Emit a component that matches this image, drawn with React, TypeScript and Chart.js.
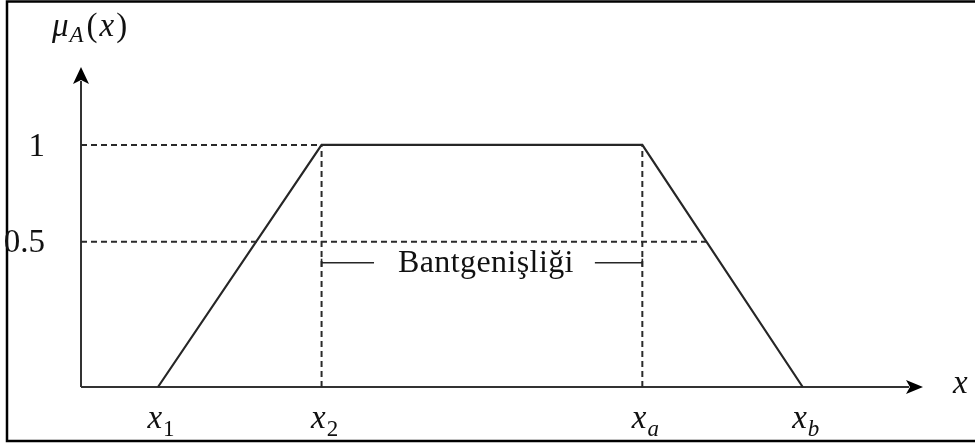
import React, { useEffect, useRef } from "react";
import { Chart, registerables, LinearScale } from "chart.js";

// Trapezoidal membership function: corner positions on the x axis
const CORNER_X = [0.48, 1.5, 3.5, 4.5];
const CORNER_MU = [0, 1, 1, 0];
// Tick marks under the x axis and their subscript names
const X_TICK_VALUES = [0.48, 1.5, 3.5, 4.5];
const X_TICK_SUBS = ["1", "2", "a", "b"];
// Membership levels shown on the y axis
const Y_TICK_VALUES = [1, 0.5];
const Y_TICK_LABELS = ["1", "0.5"];
// Where the 0.5 guide meets the falling edge
const HALF_GUIDE_END = 3.9;
const X_MAX = 5.25;
const Y_MAX = 1.322;
const BAND_LABEL = "Bantgenişliği";

// The membership axis is drawn not to scale: the lower half (0..0.5)
// is stretched and the upper half (0.5..1) squeezed.
const warp = (v: number) =>
  v <= 0.5 ? v * 1.2 : v <= 1 ? 0.6 + (v - 0.5) * 0.8 : 1 + (v - 1);
const unwarp = (w: number) =>
  w <= 0.6 ? w / 1.2 : w <= 1 ? 0.5 + (w - 0.6) / 0.8 : 1 + (w - 1);

class WarpedScale extends LinearScale {
  static id = "warped";
  getPixelForValue(value: number) {
    return super.getPixelForValue(warp(value));
  }
  getValueForPixel(pixel: number) {
    return unwarp(super.getValueForPixel(pixel) as number);
  }
}

Chart.register(...registerables, WarpedScale as any);

const SERIF = '"Liberation Serif", "Times New Roman", serif';
const INK = "#262626";

function drawSubscripted(
  ctx: CanvasRenderingContext2D,
  base: string,
  sub: string,
  cx: number,
  baseline: number,
) {
  ctx.font = `italic 33px ${SERIF}`;
  const w1 = ctx.measureText(base).width;
  const subItalic = /[a-z]/i.test(sub);
  const subFont = `${subItalic ? "italic " : ""}23px ${SERIF}`;
  ctx.font = subFont;
  const w2 = ctx.measureText(sub).width;
  const start = cx - (w1 + w2 + 1) / 2;
  ctx.font = `italic 33px ${SERIF}`;
  ctx.fillText(base, start, baseline);
  ctx.font = subFont;
  ctx.fillText(sub, start + w1 + 1, baseline + 8);
}

const schemaPlugin = {
  id: "schema",
  beforeDatasetsDraw(chart: any) {
    const { ctx, chartArea: a, scales } = chart;
    const ox = scales.x.getPixelForValue(0);
    const oy = scales.y.getPixelForValue(0);
    ctx.save();
    // outer frame
    ctx.strokeStyle = "#000";
    ctx.lineWidth = 2.5;
    ctx.strokeRect(7, 1.5, 990, 439.5);

    // axes with arrow heads
    ctx.strokeStyle = "#333";
    ctx.lineWidth = 2;
    ctx.beginPath();
    ctx.moveTo(ox, oy);
    ctx.lineTo(ox, a.top + 14);
    ctx.moveTo(ox, oy);
    ctx.lineTo(a.right - 14, oy);
    ctx.stroke();
    ctx.fillStyle = "#000";
    ctx.beginPath();
    ctx.moveTo(ox, a.top);
    ctx.lineTo(ox - 8, a.top + 17);
    ctx.lineTo(ox, a.top + 13);
    ctx.lineTo(ox + 8, a.top + 17);
    ctx.closePath();
    ctx.fill();
    ctx.beginPath();
    ctx.moveTo(a.right, oy);
    ctx.lineTo(a.right - 17, oy - 7);
    ctx.lineTo(a.right - 13, oy);
    ctx.lineTo(a.right - 17, oy + 7);
    ctx.closePath();
    ctx.fill();
    ctx.restore();
  },
  afterDatasetsDraw(chart: any) {
    const { ctx, chartArea: a, scales } = chart;
    const ox = scales.x.getPixelForValue(0);
    const oy = scales.y.getPixelForValue(0);
    ctx.save();
    ctx.fillStyle = "#111";

    // y tick labels
    ctx.font = `33px ${SERIF}`;
    ctx.textAlign = "right";
    ctx.textBaseline = "middle";
    Y_TICK_VALUES.forEach((v, i) => {
      ctx.fillText(Y_TICK_LABELS[i], ox - 36, scales.y.getPixelForValue(v) + 2);
    });

    // x tick labels
    ctx.textAlign = "left";
    ctx.textBaseline = "alphabetic";
    X_TICK_VALUES.forEach((v, i) => {
      drawSubscripted(ctx, "x", X_TICK_SUBS[i], scales.x.getPixelForValue(v) + 3, oy + 41);
    });

    // axis titles
    ctx.font = `italic 33px ${SERIF}`;
    ctx.fillText("x", a.right + 30, oy + 6);

    let cx = 52;
    const base = 36;
    ctx.font = `italic 33px ${SERIF}`;
    ctx.fillText("μ", cx, base);
    cx += ctx.measureText("μ").width + 1;
    ctx.font = `italic 23px ${SERIF}`;
    ctx.fillText("A", cx, base + 6);
    cx += ctx.measureText("A").width + 3;
    ctx.font = `33px ${SERIF}`;
    ctx.fillText("(", cx, base);
    cx += ctx.measureText("(").width + 2;
    ctx.font = `italic 33px ${SERIF}`;
    ctx.fillText("x", cx, base);
    cx += ctx.measureText("x").width + 2;
    ctx.font = `33px ${SERIF}`;
    ctx.fillText(")", cx, base);

    // bandwidth annotation between the two plateau corners
    const left = scales.x.getPixelForValue(CORNER_X[1]);
    const right = scales.x.getPixelForValue(CORNER_X[2]);
    const ay = scales.y.getPixelForValue(0.5) + 21;
    const mid = (left + right) / 2 + 4;
    ctx.font = `32px ${SERIF}`;
    (ctx as any).letterSpacing = "0.4px";
    ctx.textAlign = "center";
    const tw = ctx.measureText(BAND_LABEL).width;
    ctx.fillText(BAND_LABEL, mid, ay + 9);
    ctx.strokeStyle = INK;
    ctx.lineWidth = 1.6;
    ctx.beginPath();
    ctx.moveTo(left, ay);
    ctx.lineTo(mid - tw / 2 - 24, ay);
    ctx.moveTo(left, ay - 4);
    ctx.lineTo(left, ay + 4);
    ctx.moveTo(right, ay);
    ctx.lineTo(mid + tw / 2 + 21, ay);
    ctx.moveTo(right, ay - 4);
    ctx.lineTo(right, ay + 4);
    ctx.stroke();
    ctx.restore();
  },
};

const guide = (pts: { x: number; y: number }[]) => ({
  data: pts,
  showLine: true,
  borderColor: "#2a2a2a",
  borderWidth: 2,
  borderDash: [6, 4],
  pointRadius: 0,
  clip: false,
});

export default function App() {
  const ref = useRef<HTMLCanvasElement>(null);
  useEffect(() => {
    if (!ref.current) return;
    const membership = CORNER_X.map((x, i) => ({ x, y: CORNER_MU[i] }));
    const chart = new Chart(ref.current, {
      type: "scatter",
      data: {
        datasets: [
          guide([{ x: 0, y: 1 }, { x: CORNER_X[1], y: 1 }]),
          guide([{ x: 0, y: 0.5 }, { x: HALF_GUIDE_END, y: 0.5 }]),
          guide([{ x: CORNER_X[1], y: 0 }, { x: CORNER_X[1], y: 1 }]),
          guide([{ x: CORNER_X[2], y: 0 }, { x: CORNER_X[2], y: 1 }]),
          {
            data: membership,
            showLine: true,
            borderColor: INK,
            borderWidth: 2.2,
            pointRadius: 0,
            clip: false,
          } as any,
        ],
      },
      options: {
        responsive: false,
        devicePixelRatio: 1,
        animation: false,
        layout: { padding: { left: 81, right: 52, top: 67, bottom: 59 } },
        plugins: { legend: { display: false }, tooltip: { enabled: false } },
        scales: {
          x: { type: "linear", min: 0, max: X_MAX, display: false },
          y: { type: "warped" as any, min: 0, max: Y_MAX, display: false },
        },
      },
      plugins: [schemaPlugin],
    });
    return () => chart.destroy();
  }, []);
  return (
    <div
      style={{
        position: "absolute",
        left: 0,
        top: 0,
        width: 975,
        height: 446,
        background: "#fff",
      }}
    >
      <canvas ref={ref} width={975} height={446} style={{ display: "block" }} />
    </div>
  );
}
